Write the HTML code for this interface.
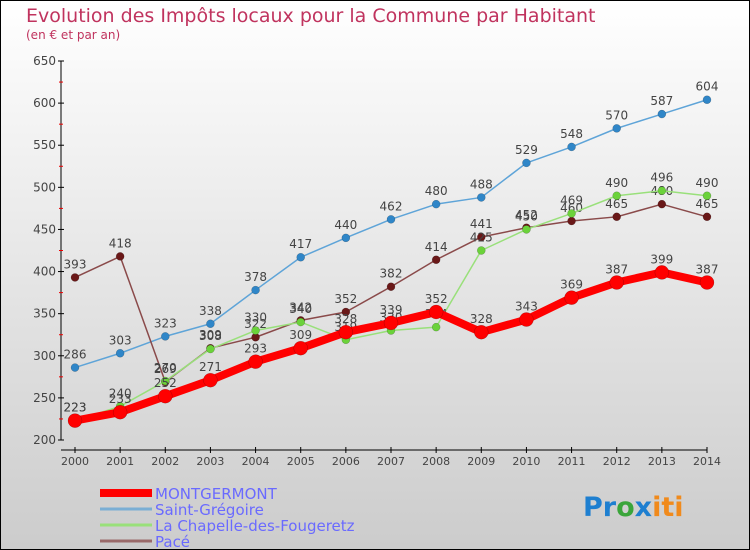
<!DOCTYPE html>
<html><head><meta charset="utf-8"><style>
body{margin:0}
#c{width:750px;height:550px;position:relative;font-family:"DejaVu Sans","Liberation Sans",sans-serif}
</style></head><body>
<div id="c">
<svg id="s" width="750" height="550" xmlns="http://www.w3.org/2000/svg" style="position:absolute;left:0;top:0">
<defs><linearGradient id="bg" x1="0" y1="0" x2="0" y2="1"><stop offset="0" stop-color="#ffffff"/><stop offset="1" stop-color="#cccccc"/></linearGradient></defs>
<rect x="0.5" y="0.5" width="749" height="549" fill="url(#bg)" stroke="#000"/>
<text x="26" y="22" font-size="19" fill="#c0335e">Evolution des Impôts locaux pour la Commune par Habitant</text>
<text x="26" y="39" font-size="12" fill="#c0335e">(en € et par an)</text>
<g id="axes"></g><g id="series"></g><g id="legend"></g>
<text x="583" y="516" font-size="27" font-weight="bold"><tspan fill="#1e7fd0">Pr</tspan><tspan fill="#3aa53a">o</tspan><tspan fill="#1e7fd0">x</tspan><tspan fill="#f08a1c">iti</tspan></text>
</svg>
</div>
<script>
const years=[2000,2001,2002,2003,2004,2005,2006,2007,2008,2009,2010,2011,2012,2013,2014];
const montgermont=[223,233,252,271,293,309,328,339,352,328,343,369,387,399,387];
const saintGregoire=[286,303,323,338,378,417,440,462,480,488,529,548,570,587,604];
const laChapelle=[223,240,270,308,330,340,319,330,334,425,450,469,490,496,490];
const pace=[393,418,269,309,322,342,352,382,414,441,452,460,465,480,465];
const yTicks=[200,250,300,350,400,450,500,550,600,650];
const seriesNames=["MONTGERMONT","Saint-Grégoire","La Chapelle-des-Fougeretz","Pacé"];
const NS="http://www.w3.org/2000/svg";
const X=i=>75+i*(632/14);
const Y=v=>440-(v-200)*(379/450);
function mk(t,a,p){const e=document.createElementNS(NS,t);for(const k in a)e.setAttribute(k,a[k]);p.appendChild(e);return e;}
const ax=document.getElementById('axes');
let e=mk('line',{x1:61,y1:Y(650),x2:61,y2:Y(200),stroke:'#000'},ax);


e=mk('line',{x1:61,y1:450,x2:707,y2:450,stroke:'#000'},ax);


yTicks.forEach((v,i)=>{
 mk('line',{x1:58,y1:Y(v),x2:64,y2:Y(v),stroke:'#000'},ax);
 if(i<yTicks.length-1)mk('line',{x1:59,y1:Y(v+25),x2:63,y2:Y(v+25),stroke:'#e00'},ax);
 const t=mk('text',{x:56,y:Y(v)+4,'font-size':12,fill:'#444','text-anchor':'end'},ax);t.textContent=v;
 
 
});
years.forEach((y,i)=>{
 mk('line',{x1:X(i),y1:447,x2:X(i),y2:453,stroke:'#000'},ax);
 const t=mk('text',{x:X(i),y:465,'font-size':11,fill:'#444','text-anchor':'middle'},ax);t.textContent=y;
 
 
});
const sg=document.getElementById('series');
function draw(vals,color,w,r,name,mark){
 const g=mk('g',{},sg);
 
 
 mk('polyline',{points:vals.map((v,i)=>X(i)+','+Y(v)).join(' '),fill:'none',stroke:color,'stroke-width':w,'stroke-linejoin':'round'},g);
 vals.forEach((v,i)=>{
  const c=mk('circle',{cx:X(i),cy:Y(v),r:r,fill:mark,stroke:'rgba(0,0,0,0.3)','stroke-width':0.5},g);
  
  
  const t=mk('text',{x:X(i),y:Y(v)-9,'font-size':12,fill:'#444','text-anchor':'middle'},g);t.textContent=v;
 });
}
draw(saintGregoire,'#5ea4d8',1.5,4,'series-saint-gregoire','#2f86c8');
draw(pace,'#8a4a4a',1.5,4,'series-pace','#6a1818');
draw(laChapelle,'#99e07a',1.5,4,'series-la-chapelle','#6bd23a');
draw(montgermont,'#ff0000',8,7,'series-montgermont','#ff0000');
const lg=document.getElementById('legend');
const lc=['#ff0000','#7aaed4','#99e07a','#9a6a6a'],lw=[8,3,3,3],ly=[493,509,525,541];
seriesNames.forEach((n,i)=>{
 const g=mk('g',{},lg);
 
 
 mk('line',{x1:100,y1:ly[i],x2:152,y2:ly[i],stroke:lc[i],'stroke-width':lw[i]},g);
 const t=mk('text',{x:155,y:ly[i]+6,'font-size':15,fill:'#6a6aff'},g);t.textContent=n;
});
</script>
</body></html>
